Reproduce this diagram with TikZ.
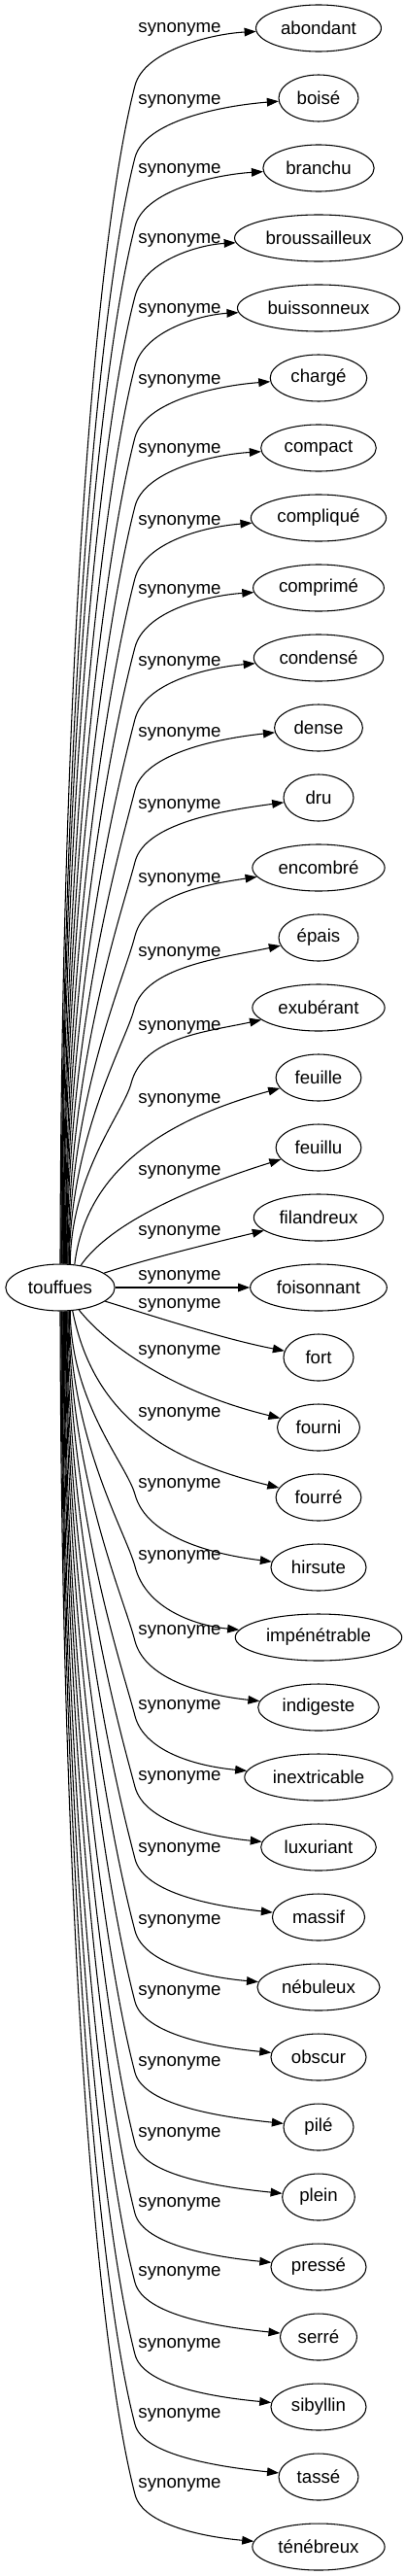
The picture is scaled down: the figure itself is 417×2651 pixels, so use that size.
\documentclass[tikz,border=0pt]{standalone}
\usepackage{fontspec}
\setmainfont{Liberation Sans}
\usetikzlibrary{shapes.geometric, arrows.meta}

\begin{document}
\begin{tikzpicture}[x=0.75pt, y=-0.75pt,
    word/.style={ellipse, draw, line width=0.8pt, inner xsep=5pt, minimum width=54pt, minimum height=36pt, font=\fontsize{14}{16}\selectfont},
    lbl/.style={inner sep=0pt, font=\fontsize{14}{16}\selectfont},
    syn/.style={line width=0.8pt, -{Triangle[length=9pt, width=6.5pt]}}]
    \useasboundingbox (0, 0) rectangle (417, 2651);

    \node[word] at (62, 1325) (touffues) {touffues};

    \node[word] at (328, 29) (abondant) {abondant};
    \node[word] at (328, 101) (boise) {boisé};
    \node[word] at (328, 173) (branchu) {branchu};
    \node[word] at (328, 245) (broussailleux) {broussailleux};
    \node[word] at (328, 317) (buissonneux) {buissonneux};
    \node[word] at (328, 389) (charge) {chargé};
    \node[word] at (328, 461) (compact) {compact};
    \node[word] at (328, 533) (complique) {compliqué};
    \node[word] at (328, 605) (comprime) {comprimé};
    \node[word] at (328, 677) (condense) {condensé};
    \node[word] at (328, 749) (dense) {dense};
    \node[word] at (328, 821) (dru) {dru};
    \node[word] at (328, 893) (encombre) {encombré};
    \node[word] at (328, 965) (epais) {épais};
    \node[word] at (328, 1037) (exuberant) {exubérant};
    \node[word] at (328, 1109) (feuille) {feuille};
    \node[word] at (328, 1181) (feuillu) {feuillu};
    \node[word] at (328, 1253) (filandreux) {filandreux};
    \node[word] at (328, 1325) (foisonnant) {foisonnant};
    \node[word] at (328, 1397) (fort) {fort};
    \node[word] at (328, 1469) (fourni) {fourni};
    \node[word] at (328, 1541) (fourre) {fourré};
    \node[word] at (328, 1613) (hirsute) {hirsute};
    \node[word] at (328, 1685) (impenetrable) {impénétrable};
    \node[word] at (328, 1757) (indigeste) {indigeste};
    \node[word] at (328, 1829) (inextricable) {inextricable};
    \node[word] at (328, 1901) (luxuriant) {luxuriant};
    \node[word] at (328, 1973) (massif) {massif};
    \node[word] at (328, 2045) (nebuleux) {nébuleux};
    \node[word] at (328, 2117) (obscur) {obscur};
    \node[word] at (328, 2189) (pile) {pilé};
    \node[word] at (328, 2261) (plein) {plein};
    \node[word] at (328, 2333) (presse) {pressé};
    \node[word] at (328, 2405) (serre) {serré};
    \node[word] at (328, 2477) (sibyllin) {sibyllin};
    \node[word] at (328, 2549) (tasse) {tassé};
    \node[word] at (328, 2621) (tenebreux) {ténébreux};

    \node[lbl] at (185, 30) (s-abondant) {synonyme};
    \node[lbl] at (185, 104) (s-boise) {synonyme};
    \node[lbl] at (185, 175) (s-branchu) {synonyme};
    \node[lbl] at (185, 247) (s-broussailleux) {synonyme};
    \node[lbl] at (185, 319) (s-buissonneux) {synonyme};
    \node[lbl] at (185, 392) (s-charge) {synonyme};
    \node[lbl] at (185, 463) (s-compact) {synonyme};
    \node[lbl] at (185, 537) (s-complique) {synonyme};
    \node[lbl] at (185, 608) (s-comprime) {synonyme};
    \node[lbl] at (185, 682) (s-condense) {synonyme};
    \node[lbl] at (185, 755) (s-dense) {synonyme};
    \node[lbl] at (185, 829) (s-dru) {synonyme};
    \node[lbl] at (185, 905) (s-encombre) {synonyme};
    \node[lbl] at (185, 981) (s-epais) {synonyme};
    \node[lbl] at (185, 1057) (s-exuberant) {synonyme};
    \node[lbl] at (185, 1132) (s-feuille) {synonyme};
    \node[lbl] at (185, 1206) (s-feuillu) {synonyme};
    \node[lbl] at (185, 1268) (s-filandreux) {synonyme};
    \node[lbl] at (185, 1314) (s-foisonnant) {synonyme};
    \node[lbl] at (185, 1343) (s-fort) {synonyme};
    \node[lbl] at (185, 1391) (s-fourni) {synonyme};
    \node[lbl] at (185, 1455) (s-fourre) {synonyme};
    \node[lbl] at (185, 1528) (s-hirsute) {synonyme};
    \node[lbl] at (185, 1602) (s-impenetrable) {synonyme};
    \node[lbl] at (185, 1679) (s-indigeste) {synonyme};
    \node[lbl] at (185, 1756) (s-inextricable) {synonyme};
    \node[lbl] at (185, 1829) (s-luxuriant) {synonyme};
    \node[lbl] at (185, 1903) (s-massif) {synonyme};
    \node[lbl] at (185, 1977) (s-nebuleux) {synonyme};
    \node[lbl] at (185, 2050) (s-obscur) {synonyme};
    \node[lbl] at (185, 2123) (s-pile) {synonyme};
    \node[lbl] at (185, 2196) (s-plein) {synonyme};
    \node[lbl] at (185, 2268) (s-presse) {synonyme};
    \node[lbl] at (185, 2339) (s-serre) {synonyme};
    \node[lbl] at (185, 2413) (s-sibyllin) {synonyme};
    \node[lbl] at (185, 2485) (s-tasse) {synonyme};
    \node[lbl] at (185, 2557) (s-tenebreux) {synonyme};

    \draw[syn] (touffues.90) .. controls (63, 695) and (98, 246) .. (139, 88) .. controls (148, 53) and (215, 35) .. (abondant);
    \draw[syn] (touffues.88.4) .. controls (64, 732) and (101, 310) .. (139, 162) .. controls (149, 125) and (226, 109) .. (boise);
    \draw[syn] (touffues.86.8) .. controls (64, 767) and (103, 372) .. (139, 233) .. controls (148, 197) and (218, 180) .. (branchu);
    \draw[syn] (touffues.85.2) .. controls (65, 803) and (105, 434) .. (139, 305) .. controls (148, 269) and (203, 252) .. (broussailleux);
    \draw[syn] (touffues.83.6) .. controls (66, 839) and (108, 497) .. (139, 377) .. controls (148, 341) and (205, 324) .. (buissonneux);
    \draw[syn] (touffues.82) .. controls (67, 875) and (110, 561) .. (139, 450) .. controls (149, 413) and (222, 397) .. (charge);
    \draw[syn] (touffues.80.4) .. controls (67, 911) and (113, 622) .. (139, 521) .. controls (148, 485) and (217, 468) .. (compact);
    \draw[syn] (touffues.78.8) .. controls (68, 948) and (115, 687) .. (139, 595) .. controls (149, 558) and (210, 542) .. (complique);
    \draw[syn] (touffues.77.2) .. controls (69, 984) and (117, 749) .. (139, 666) .. controls (149, 629) and (212, 613) .. (comprime);
    \draw[syn] (touffues.75.6) .. controls (69, 1021) and (120, 813) .. (139, 740) .. controls (149, 702) and (214, 687) .. (condense);
    \draw[syn] (touffues.74) .. controls (70, 1057) and (123, 876) .. (139, 813) .. controls (149, 775) and (225, 760) .. (dense);
    \draw[syn] (touffues.72.4) .. controls (71, 1094) and (125, 941) .. (139, 887) .. controls (149, 847) and (231, 834) .. (dru);
    \draw[syn] (touffues.70.8) .. controls (71, 1132) and (128, 1007) .. (139, 963) .. controls (150, 921) and (213, 910) .. (encombre);
    \draw[syn] (touffues.69.2) .. controls (72, 1170) and (129, 1073) .. (138, 1039) .. controls (149, 995) and (227, 986) .. (epais);
    \draw[syn] (touffues.67.6) .. controls (73, 1208) and (127, 1145) .. (135, 1115) .. controls (147, 1068) and (211, 1062) .. (exuberant);
    \draw[syn] (touffues.58) .. controls (88, 1210) and (160, 1155) .. (feuille);
    \draw[syn] (touffues.47) .. controls (105, 1270) and (165, 1232) .. (feuillu);
    \draw[syn] (touffues) .. controls (150, 1296) and (215, 1280) .. (filandreux);
    \draw[syn] (touffues) -- (foisonnant);
    \draw[syn] (touffues) .. controls (160, 1355) and (230, 1378) .. (fort);
    \draw[syn] (touffues.-50) .. controls (108, 1382) and (175, 1432) .. (fourni);
    \draw[syn] (touffues.-62) .. controls (95, 1450) and (160, 1500) .. (fourre);
    \draw[syn] (touffues.-67.6) .. controls (73, 1444) and (131, 1508) .. (139, 1538) .. controls (151, 1583) and (222, 1600) .. (hirsute);
    \draw[syn] (touffues.-69.2) .. controls (72, 1481) and (130, 1578) .. (139, 1612) .. controls (150, 1656) and (202, 1673) .. (impenetrable);
    \draw[syn] (touffues.-70.8) .. controls (71, 1519) and (128, 1645) .. (139, 1689) .. controls (150, 1730) and (215, 1745) .. (indigeste);
    \draw[syn] (touffues.-72.4) .. controls (71, 1558) and (125, 1712) .. (139, 1766) .. controls (149, 1804) and (206, 1818) .. (inextricable);
    \draw[syn] (touffues.-74) .. controls (70, 1594) and (122, 1775) .. (139, 1839) .. controls (149, 1876) and (215, 1890) .. (luxuriant);
    \draw[syn] (touffues.-75.6) .. controls (69, 1631) and (120, 1840) .. (139, 1913) .. controls (148, 1949) and (223, 1962) .. (massif);
    \draw[syn] (touffues.-77.2) .. controls (69, 1668) and (117, 1904) .. (139, 1987) .. controls (148, 2022) and (214, 2035) .. (nebuleux);
    \draw[syn] (touffues.-78.8) .. controls (68, 1705) and (115, 1968) .. (139, 2060) .. controls (148, 2094) and (223, 2107) .. (obscur);
    \draw[syn] (touffues.-80.4) .. controls (67, 1741) and (112, 2031) .. (139, 2133) .. controls (148, 2167) and (230, 2179) .. (pile);
    \draw[syn] (touffues.-82) .. controls (67, 1778) and (110, 2095) .. (139, 2206) .. controls (148, 2239) and (228, 2251) .. (plein);
    \draw[syn] (touffues.-83.6) .. controls (66, 1814) and (108, 2157) .. (139, 2278) .. controls (148, 2311) and (224, 2323) .. (presse);
    \draw[syn] (touffues.-85.2) .. controls (65, 1849) and (105, 2219) .. (139, 2349) .. controls (148, 2383) and (228, 2395) .. (serre);
    \draw[syn] (touffues.-86.8) .. controls (64, 1886) and (103, 2283) .. (139, 2423) .. controls (147, 2455) and (220, 2467) .. (sibyllin);
    \draw[syn] (touffues.-88.4) .. controls (64, 1922) and (100, 2346) .. (139, 2495) .. controls (147, 2527) and (228, 2539) .. (tasse);
    \draw[syn] (touffues.-90) .. controls (63, 1958) and (98, 2409) .. (139, 2567) .. controls (147, 2599) and (212, 2611) .. (tenebreux);
\end{tikzpicture}
\end{document}
